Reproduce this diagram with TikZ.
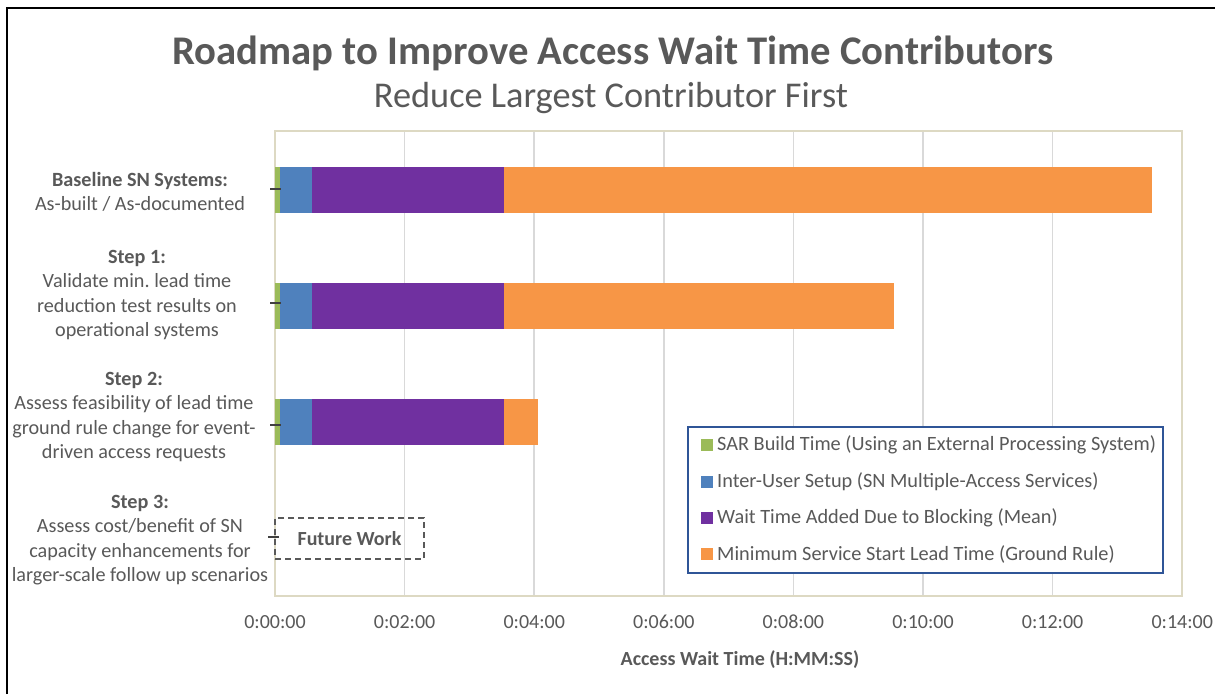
\documentclass[tikz,border=0pt]{standalone}
\usepackage{fontspec}
\setmainfont{Carlito}

\definecolor{txtgray}{HTML}{595959}
\definecolor{sargreen}{HTML}{9BBB59}
\definecolor{setupblue}{HTML}{4F81BD}
\definecolor{blockpurple}{HTML}{7030A0}
\definecolor{leadorange}{HTML}{F79646}
\definecolor{gridgray}{HTML}{D9D9D9}
\definecolor{framebeige}{HTML}{DDD9C3}
\definecolor{legendblue}{HTML}{2F5597}

% minutes -> picture x
\newcommand{\mn}[1]{275+#1*64.8}

\tikzset{
	charttitle/.style={text=txtgray, font=\fontsize{40.7}{48}\selectfont\bfseries},
	chartsub/.style={text=txtgray, font=\fontsize{36.3}{44}\selectfont},
	steplabel/.style={text=txtgray, align=center, font=\fontsize{20.2}{24.4}\selectfont},
	ticklabel/.style={text=txtgray, font=\fontsize{20}{24}\selectfont},
	axistitle/.style={text=txtgray, font=\fontsize{20}{24}\selectfont\bfseries},
	legendtext/.style={text=txtgray, anchor=west, inner sep=0pt, font=\fontsize{20.3}{24}\selectfont},
	bartick/.style={draw=black!75, line width=2pt},
}

\begin{document}
\begin{tikzpicture}[x=1pt,y=-1pt]
	\useasboundingbox (0,0) rectangle (1215,694);
	\fill[white] (0,0) rectangle (1215,694);
	\draw[line width=2pt] (7,694) -- (7,8) -- (1215,8);

	\node[charttitle] (title) at (613,53) {Roadmap to Improve Access Wait Time Contributors};
	\node[chartsub] (subtitle) at (611,98) {Reduce Largest Contributor First};

	% grid and plot frame
	\foreach \k in {1,...,6}
		\draw[gridgray, line width=1.5pt] ({275+\k*129.6},131) -- ({275+\k*129.6},596);
	\draw[framebeige, line width=1.5pt] (275,131) rectangle (1182,596);

	% stacked bars
	\foreach \ytop/\len in {167/13.53, 283/9.55, 399/4.06} {
		\fill[sargreen] ({\mn{0}},\ytop) rectangle ({\mn{0.08}},\ytop+46);
		\fill[setupblue] ({\mn{0.08}},\ytop) rectangle ({\mn{0.57}},\ytop+46);
		\fill[blockpurple] ({\mn{0.57}},\ytop) rectangle ({\mn{3.53}},\ytop+46);
		\fill[leadorange] ({\mn{3.53}},\ytop) rectangle ({\mn{\len}},\ytop+46);
	}

	% category ticks
	\draw[bartick] (270,189) -- (281,189);
	\draw[bartick] (270,303) -- (281,303);
	\draw[bartick] (270,425) -- (281,425);
	\draw[bartick] (268,537) -- (279,537);

	\node[draw=txtgray, dash pattern=on 6pt off 4pt, line width=1.2pt, minimum width=149pt, minimum height=41pt,
		text=txtgray, font=\fontsize{20}{24}\selectfont\bfseries] (future) at (349.5,538.5) {Future Work};

	% category labels
	\node[steplabel] (baseline) at (140,192) {\textbf{Baseline SN Systems:}\\As-built / As-documented};
	\node[steplabel] (stepone) at (137,295) {\textbf{Step 1:}\\Validate min.\ lead time\\reduction test results on\\operational systems};
	\node[steplabel] (steptwo) at (134,417) {\textbf{Step 2:}\\Assess feasibility of lead time\\ground rule change for event-\\driven access requests};
	\node[steplabel] (stepthree) at (140,540) {\textbf{Step 3:}\\Assess cost/benefit of SN\\capacity enhancements for\\larger-scale follow up scenarios};

	% axis
	\foreach \lab [count=\k from 0] in {0:00:00,0:02:00,0:04:00,0:06:00,0:08:00,0:10:00,0:12:00,0:14:00}
		\node[ticklabel] (tick\k) at ({275+\k*129.6},622) {\lab};
	\node[axistitle] (xtitle) at (740,660) {Access Wait Time (H:MM:SS)};

	% legend
	\draw[legendblue, line width=1.5pt, fill=white] (688,427) rectangle (1163,573);
	\fill[sargreen] (701,439) rectangle (713,451);
	\fill[setupblue] (701,476) rectangle (713,488);
	\fill[blockpurple] (701,512) rectangle (713,524);
	\fill[leadorange] (701,548) rectangle (713,560);
	\node[legendtext] (legsar) at (717,445) {SAR Build Time (Using an External Processing System)};
	\node[legendtext] (legsetup) at (717,482) {Inter-User Setup (SN Multiple-Access Services)};
	\node[legendtext] (legwait) at (717,518) {Wait Time Added Due to Blocking (Mean)};
	\node[legendtext] (leglead) at (717,554) {Minimum Service Start Lead Time (Ground Rule)};
\end{tikzpicture}
\end{document}
